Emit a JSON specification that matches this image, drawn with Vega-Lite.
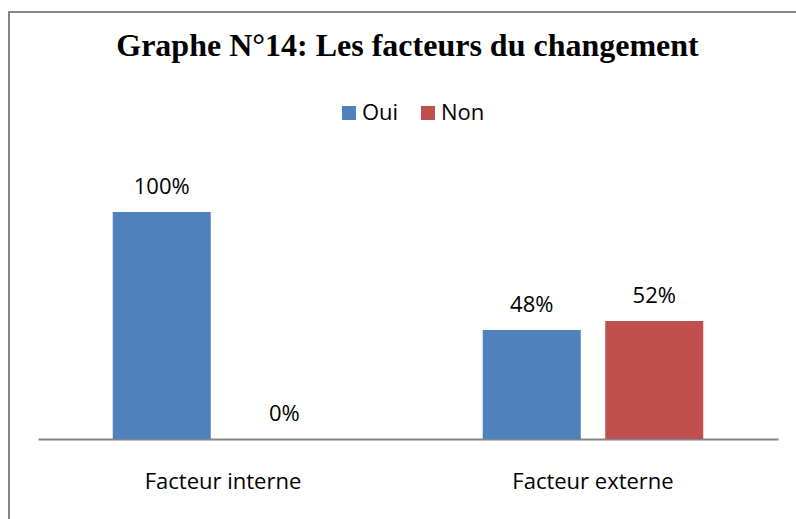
{
  "$schema": "https://vega.github.io/schema/vega-lite/v6.json",
  "width": 787,
  "height": 507,
  "autosize": {"type": "none"},
  "padding": {"left": 9, "top": 12, "right": 0, "bottom": 0},
  "background": "white",
  "title": {
    "text": "Graphe N°14: Les facteurs du changement",
    "font": "Liberation Serif",
    "fontSize": 32,
    "fontWeight": "bold",
    "color": "black",
    "anchor": "middle",
    "frame": "group",
    "baseline": "alphabetic",
    "offset": 0,
    "dy": 76,
    "dx": 5
  },
  "data": {
    "values": [
      {"facteur": "Facteur interne", "reponse": "Oui", "valeur": 1},
      {"facteur": "Facteur interne", "reponse": "Non", "valeur": 0},
      {"facteur": "Facteur externe", "reponse": "Oui", "valeur": 0.48},
      {"facteur": "Facteur externe", "reponse": "Non", "valeur": 0.52}
    ]
  },
  "encoding": {
    "x": {
      "field": "facteur",
      "type": "nominal",
      "sort": ["Facteur interne", "Facteur externe"],
      "scale": {"type": "band", "range": [29, 769], "paddingInner": 0, "paddingOuter": 0},
      "axis": {
        "title": null,
        "orient": "bottom",
        "offset": -80,
        "domainColor": "#868686",
        "domainWidth": 2,
        "ticks": false,
        "tickSize": 0,
        "labelFont": "Open Sans",
        "labelFontSize": 22,
        "labelColor": "black",
        "labelAngle": 0,
        "labelBaseline": "alphabetic",
        "labelPadding": 49
      }
    },
    "xOffset": {
      "field": "reponse",
      "type": "nominal",
      "sort": ["Oui", "Non"],
      "scale": {"paddingInner": 0.2, "paddingOuter": 0.61}
    },
    "y": {
      "field": "valeur",
      "type": "quantitative",
      "scale": {"domain": [0, 1], "range": [427, 200], "nice": false, "zero": true},
      "axis": null
    }
  },
  "layer": [
    {
      "mark": {"type": "bar"},
      "encoding": {
        "color": {
          "field": "reponse",
          "type": "nominal",
          "sort": ["Oui", "Non"],
          "scale": {"domain": ["Oui", "Non"], "range": ["#4F81BD", "#C0504D"]},
          "legend": {
            "title": null,
            "orient": "none",
            "direction": "horizontal",
            "legendX": 329,
            "legendY": 90,
            "symbolType": "square",
            "symbolSize": 196,
            "symbolStrokeWidth": 0,
            "labelFont": "Open Sans",
            "labelFontSize": 22,
            "labelColor": "black",
            "labelOffset": 2,
            "columnPadding": 18
          }
        }
      }
    },
    {
      "mark": {
        "type": "text",
        "baseline": "alphabetic",
        "dy": -18,
        "font": "Open Sans",
        "fontSize": 22,
        "color": "black"
      },
      "encoding": {
        "text": {"field": "valeur", "type": "quantitative", "format": ".0%"}
      }
    }
  ],
  "config": {
    "font": "Open Sans",
    "view": {
      "stroke": "#868686",
      "strokeWidth": 2,
      "strokeDash": [787, 1294, 507]
    }
  }
}
